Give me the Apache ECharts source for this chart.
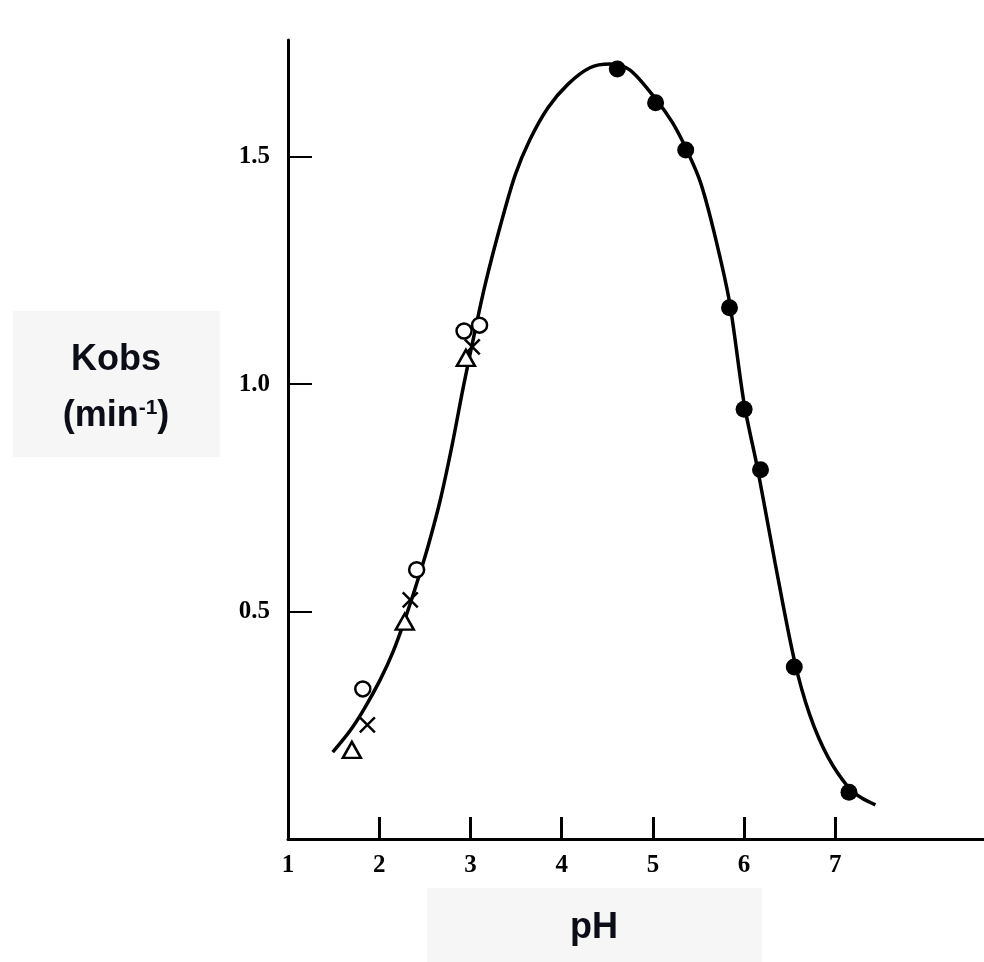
<!DOCTYPE html>
<html>
<head>
<meta charset="utf-8">
<script src="https://cdn.jsdelivr.net/npm/echarts@6/dist/echarts.min.js"></script>
<style>
  html, body { margin: 0; padding: 0; background: #fff; }
  #main { width: 984px; height: 962px; }
</style>
</head>
<body>
<div id="main"></div>
<script>
// fitted curve
var curvePH = [1.49, 1.68, 1.84, 2.01, 2.15, 2.28, 2.43, 2.54, 2.67, 2.80, 2.92, 3.04, 3.16, 3.33, 3.49, 3.65, 3.85, 4.07, 4.31, 4.53, 4.75, 5.04, 5.21, 5.36, 5.52, 5.67, 5.84, 6.00, 6.15, 6.34, 6.55, 6.72, 6.92, 7.15, 7.29, 7.44];
var curveK = [0.191, 0.238, 0.288, 0.350, 0.411, 0.482, 0.574, 0.647, 0.746, 0.867, 0.992, 1.108, 1.218, 1.350, 1.460, 1.537, 1.608, 1.660, 1.696, 1.704, 1.691, 1.625, 1.577, 1.520, 1.445, 1.335, 1.181, 0.958, 0.812, 0.607, 0.394, 0.273, 0.180, 0.112, 0.090, 0.075];

// filled dots
var dotPH = [4.61, 5.03, 5.36, 5.84, 6.00, 6.18, 6.55, 7.15];
var dotK = [1.693, 1.619, 1.515, 1.168, 0.945, 0.812, 0.378, 0.103];

// open circles
var circPH = [1.82, 2.41, 2.93, 3.10];
var circK = [0.33, 0.592, 1.117, 1.13];

// crosses
var crossPH = [1.87, 2.34, 3.02];
var crossK = [0.251, 0.526, 1.082];

// open triangles
var triPH = [1.70, 2.28, 2.95];
var triK = [0.196, 0.478, 1.058];

var xLabels = [1, 2, 3, 4, 5, 6, 7];
var xTickVals = [2, 3, 4, 5, 6, 7];
var yTicks = [0.5, 1.0, 1.5];

function pairs(xs, ys) {
    return xs.map(function (x, i) { return [x, ys[i]]; });
}

var myChart = echarts.init(document.getElementById('main'));
var serifFont = '"Liberation Serif", "DejaVu Serif", serif';
var sansFont = '"Liberation Sans", Arial, sans-serif';

var option = {
    backgroundColor: '#fff',
    animation: false,
    grid: { left: 288, right: 0, top: 40, bottom: 123 },
    xAxis: {
        type: 'value',
        min: 1, max: 8.63, interval: 1,
        splitLine: { show: false },
        axisLine: { lineStyle: { color: '#000', width: 3 } },
        axisTick: { inside: true, length: 22, customValues: xTickVals, lineStyle: { color: '#000', width: 3 } },
        axisLabel: {
            margin: 14, color: '#000', fontFamily: serifFont, fontWeight: 'bold', fontSize: 25,
            customValues: xLabels,
            formatter: function (v) { return String(v); }
        }
    },
    yAxis: {
        type: 'value',
        min: 0, max: 1.757, interval: 0.5,
        splitLine: { show: false },
        axisLine: { lineStyle: { color: '#000', width: 3 } },
        axisTick: { inside: true, length: 24, customValues: yTicks, lineStyle: { color: '#000', width: 2 } },
        axisLabel: {
            margin: 18, color: '#000', fontFamily: serifFont, fontWeight: 'bold', fontSize: 25,
            customValues: yTicks,
            formatter: function (v) { return v.toFixed(1); }
        }
    },
    series: [{
        type: 'line',
        data: pairs(curvePH, curveK),
        smooth: 0.3,
        showSymbol: false,
        lineStyle: { color: '#000', width: 3.5 },
        z: 2
    }, {
        type: 'scatter',
        data: pairs(dotPH, dotK),
        symbol: 'circle',
        symbolSize: 17,
        itemStyle: { color: '#000', opacity: 1 },
        z: 3
    }, {
        type: 'scatter',
        data: pairs(circPH, circK),
        symbol: 'circle',
        symbolSize: 15,
        itemStyle: { color: '#fff', borderColor: '#000', borderWidth: 2.5, opacity: 1 },
        z: 3
    }, {
        type: 'scatter',
        data: pairs(crossPH, crossK),
        symbol: 'path://M0,0L10,10M10,0L0,10',
        symbolSize: 15,
        itemStyle: { color: 'none', borderColor: '#000', borderWidth: 2.5, opacity: 1 },
        z: 3
    }, {
        type: 'scatter',
        data: pairs(triPH, triK),
        symbol: 'triangle',
        symbolSize: [18, 16],
        itemStyle: { color: '#fff', borderColor: '#000', borderWidth: 2.5, opacity: 1 },
        z: 3
    }],
    graphic: [{
        type: 'rect',
        shape: { x: 13, y: 311, width: 207, height: 146 },
        style: { fill: '#f6f6f6' },
        z: 0
    }, {
        type: 'text',
        x: 116, y: 360,
        style: {
            text: 'Kobs', fill: '#0b0d17', fontFamily: sansFont,
            fontWeight: 'bold', fontSize: 36, align: 'center', verticalAlign: 'middle'
        }
    }, {
        type: 'text',
        x: 116, y: 416,
        style: {
            text: '(min{sup|-1})',
            fill: '#0b0d17', fontFamily: sansFont,
            fontWeight: 'bold', fontSize: 36, align: 'center', verticalAlign: 'middle',
            rich: {
                sup: { fontSize: 21, fontWeight: 'bold', fill: '#0b0d17', verticalAlign: 'top', padding: [0, 0, 16, 0],
                       fontFamily: sansFont }
            }
        }
    }, {
        type: 'rect',
        shape: { x: 427, y: 888, width: 335, height: 74 },
        style: { fill: '#f6f6f6' },
        z: 0
    }, {
        type: 'text',
        x: 594, y: 928,
        style: {
            text: 'pH', fill: '#0b0d17', fontFamily: sansFont,
            fontWeight: 'bold', fontSize: 36, align: 'center', verticalAlign: 'middle'
        }
    }]
};

myChart.setOption(option);
</script>
</body>
</html>
